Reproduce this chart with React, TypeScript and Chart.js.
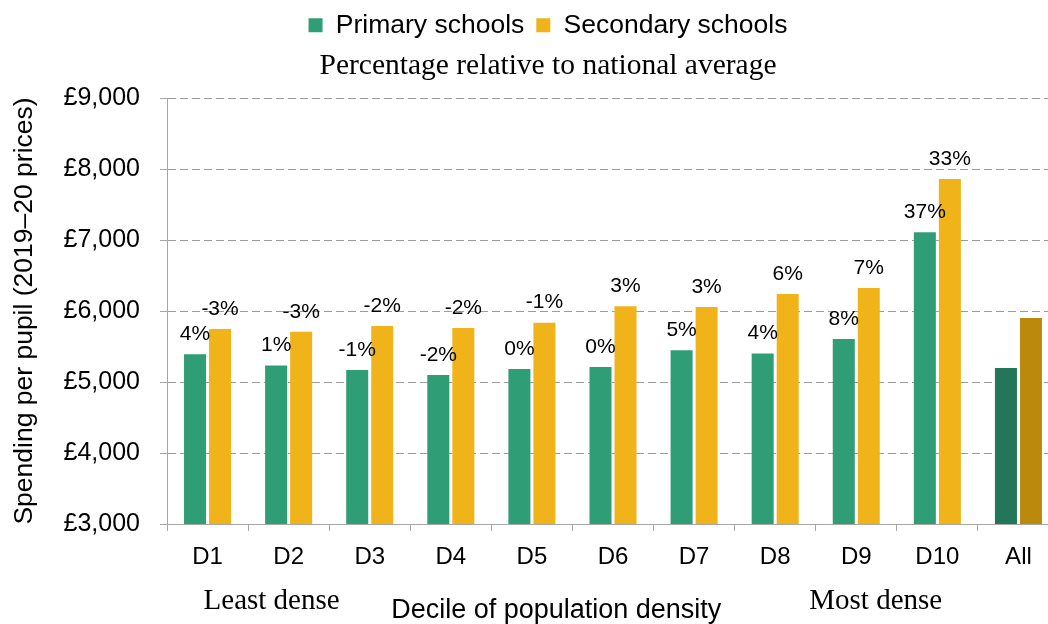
import { useEffect, useRef } from 'react';
import { Chart, registerables } from 'chart.js';

Chart.register(...registerables);

const categories = ['D1', 'D2', 'D3', 'D4', 'D5', 'D6', 'D7', 'D8', 'D9', 'D10', 'All'];
const primaryValues = [5391, 5231, 5170, 5099, 5184, 5212, 5448, 5402, 5604, 7109, 5198];
const secondaryValues = [5745, 5708, 5788, 5759, 5836, 6067, 6057, 6240, 6325, 7859, 5901];
const primaryLabels = ['4%', '1%', '-1%', '-2%', '0%', '0%', '5%', '4%', '8%', '37%', ''];
const secondaryLabels = ['-3%', '-3%', '-2%', '-2%', '-1%', '3%', '3%', '6%', '7%', '33%', ''];
const yMin = 3000;
const yMax = 9000;
const yStep = 1000;

const GREEN = '#2f9e77';
const YELLOW = '#f0b31a';
const DARK_GREEN = '#237659';
const DARK_GOLD = '#bb8a0d';
const SANS = '"Liberation Sans", Arial, sans-serif';
const SERIF = '"Liberation Serif", "Times New Roman", serif';
const GRID = '#9c9c9c';
const AXIS = '#a6a6a6';

const fmt = (v: number) => '£' + String(Math.round(v)).replace(/\B(?=(\d{3})+(?!\d))/g, ',');

const textPlugin = {
  id: 'customText',
  afterDatasetsDraw(chart: any) {
    const ctx = chart.ctx;
    ctx.save();
    ctx.fillStyle = '#000';
    ctx.textAlign = 'center';
    ctx.textBaseline = 'middle';
    ctx.font = `21px ${SANS}`;
    [primaryLabels, secondaryLabels].forEach((labels, di) => {
      const meta = chart.getDatasetMeta(di);
      meta.data.forEach((el: any, i: number) => {
        if (!labels[i]) return;
        ctx.fillText(labels[i], el.x, el.y - 20);
      });
    });
    const xs = chart.scales.x;
    ctx.textBaseline = 'alphabetic';
    ctx.font = `29px ${SERIF}`;
    ctx.fillText('Least dense', xs.getPixelForValue(0.79), 609);
    ctx.fillText('Most dense', xs.getPixelForValue(8.24), 609);
    ctx.font = `27px ${SANS}`;
    ctx.fillText('Decile of population density', xs.getPixelForValue(4.3), 618);
    ctx.restore();
  },
};

export default function App() {
  const ref = useRef<HTMLCanvasElement | null>(null);
  useEffect(() => {
    if (!ref.current) return;
    const last = categories.length - 1;
    const chart = new Chart(ref.current, {
      type: 'bar',
      data: {
        labels: categories,
        datasets: [
          {
            label: 'Primary schools',
            data: primaryValues,
            backgroundColor: (c: any) => (c.dataIndex === last ? DARK_GREEN : GREEN),
            borderWidth: 0,
            categoryPercentage: 0.617,
            barPercentage: 0.88,
          },
          {
            label: 'Secondary schools',
            data: secondaryValues,
            backgroundColor: (c: any) => (c.dataIndex === last ? DARK_GOLD : YELLOW),
            borderWidth: 0,
            categoryPercentage: 0.617,
            barPercentage: 0.88,
          },
        ],
      },
      options: {
        responsive: false,
        animation: false,
        devicePixelRatio: 1,
        layout: { padding: 0 },
        plugins: {
          legend: {
            position: 'top',
            labels: {
              font: { family: SANS, size: 26.5 },
              color: '#000',
              boxWidth: 14,
              boxHeight: 14,
              padding: 12,
            },
          },
          subtitle: {
            display: true,
            text: 'Percentage relative to national average',
            position: 'top',
            weight: 500,
            color: '#000',
            font: { family: SERIF, size: 29.5, weight: 'normal', lineHeight: 1.2 },
            padding: { top: 0, bottom: 14.1 },
          },
          tooltip: { enabled: false },
        },
        scales: {
          x: {
            afterFit: (s: any) => {
              s.height = 100;
            },
            grid: {
              display: true,
              drawOnChartArea: false,
              drawTicks: true,
              tickLength: 7,
              color: AXIS,
              offset: true,
            },
            border: { display: true, color: AXIS, width: 1 },
            ticks: { font: { family: SANS, size: 24 }, color: '#000', padding: 12 },
          },
          y: {
            min: yMin,
            max: yMax,
            afterFit: (s: any) => {
              s.width = 167;
            },
            grid: {
              color: GRID,
              lineWidth: 1,
              tickLength: 7,
              tickColor: AXIS,
              drawTicks: true,
            },
            border: { display: true, color: AXIS, width: 1, dash: [8, 4] },
            ticks: {
              stepSize: yStep,
              font: { family: SANS, size: 25 },
              color: '#000',
              padding: 20,
              callback: (v: any) => fmt(Number(v)),
            },
            title: {
              display: true,
              text: 'Spending per pupil (2019–20 prices)',
              font: { family: SANS, size: 26.5 },
              color: '#000',
              padding: { top: 9, bottom: 0 },
            },
          },
          spacer: {
            type: 'linear',
            position: 'right',
            display: true,
            afterFit: (s: any) => {
              s.width = 37;
            },
            grid: { display: false, drawOnChartArea: false, drawTicks: false },
            border: { display: false },
            ticks: { display: false },
          },
        },
      },
      plugins: [textPlugin],
    } as any);
    return () => chart.destroy();
  }, []);

  return (
    <div
      style={{
        position: 'fixed',
        left: 0,
        top: 0,
        width: 1048,
        height: 624,
        overflow: 'hidden',
        background: '#fff',
      }}
    >
      <canvas ref={ref} width={1096} height={624} style={{ display: 'block', width: 1096, height: 624 }} />
    </div>
  );
}
